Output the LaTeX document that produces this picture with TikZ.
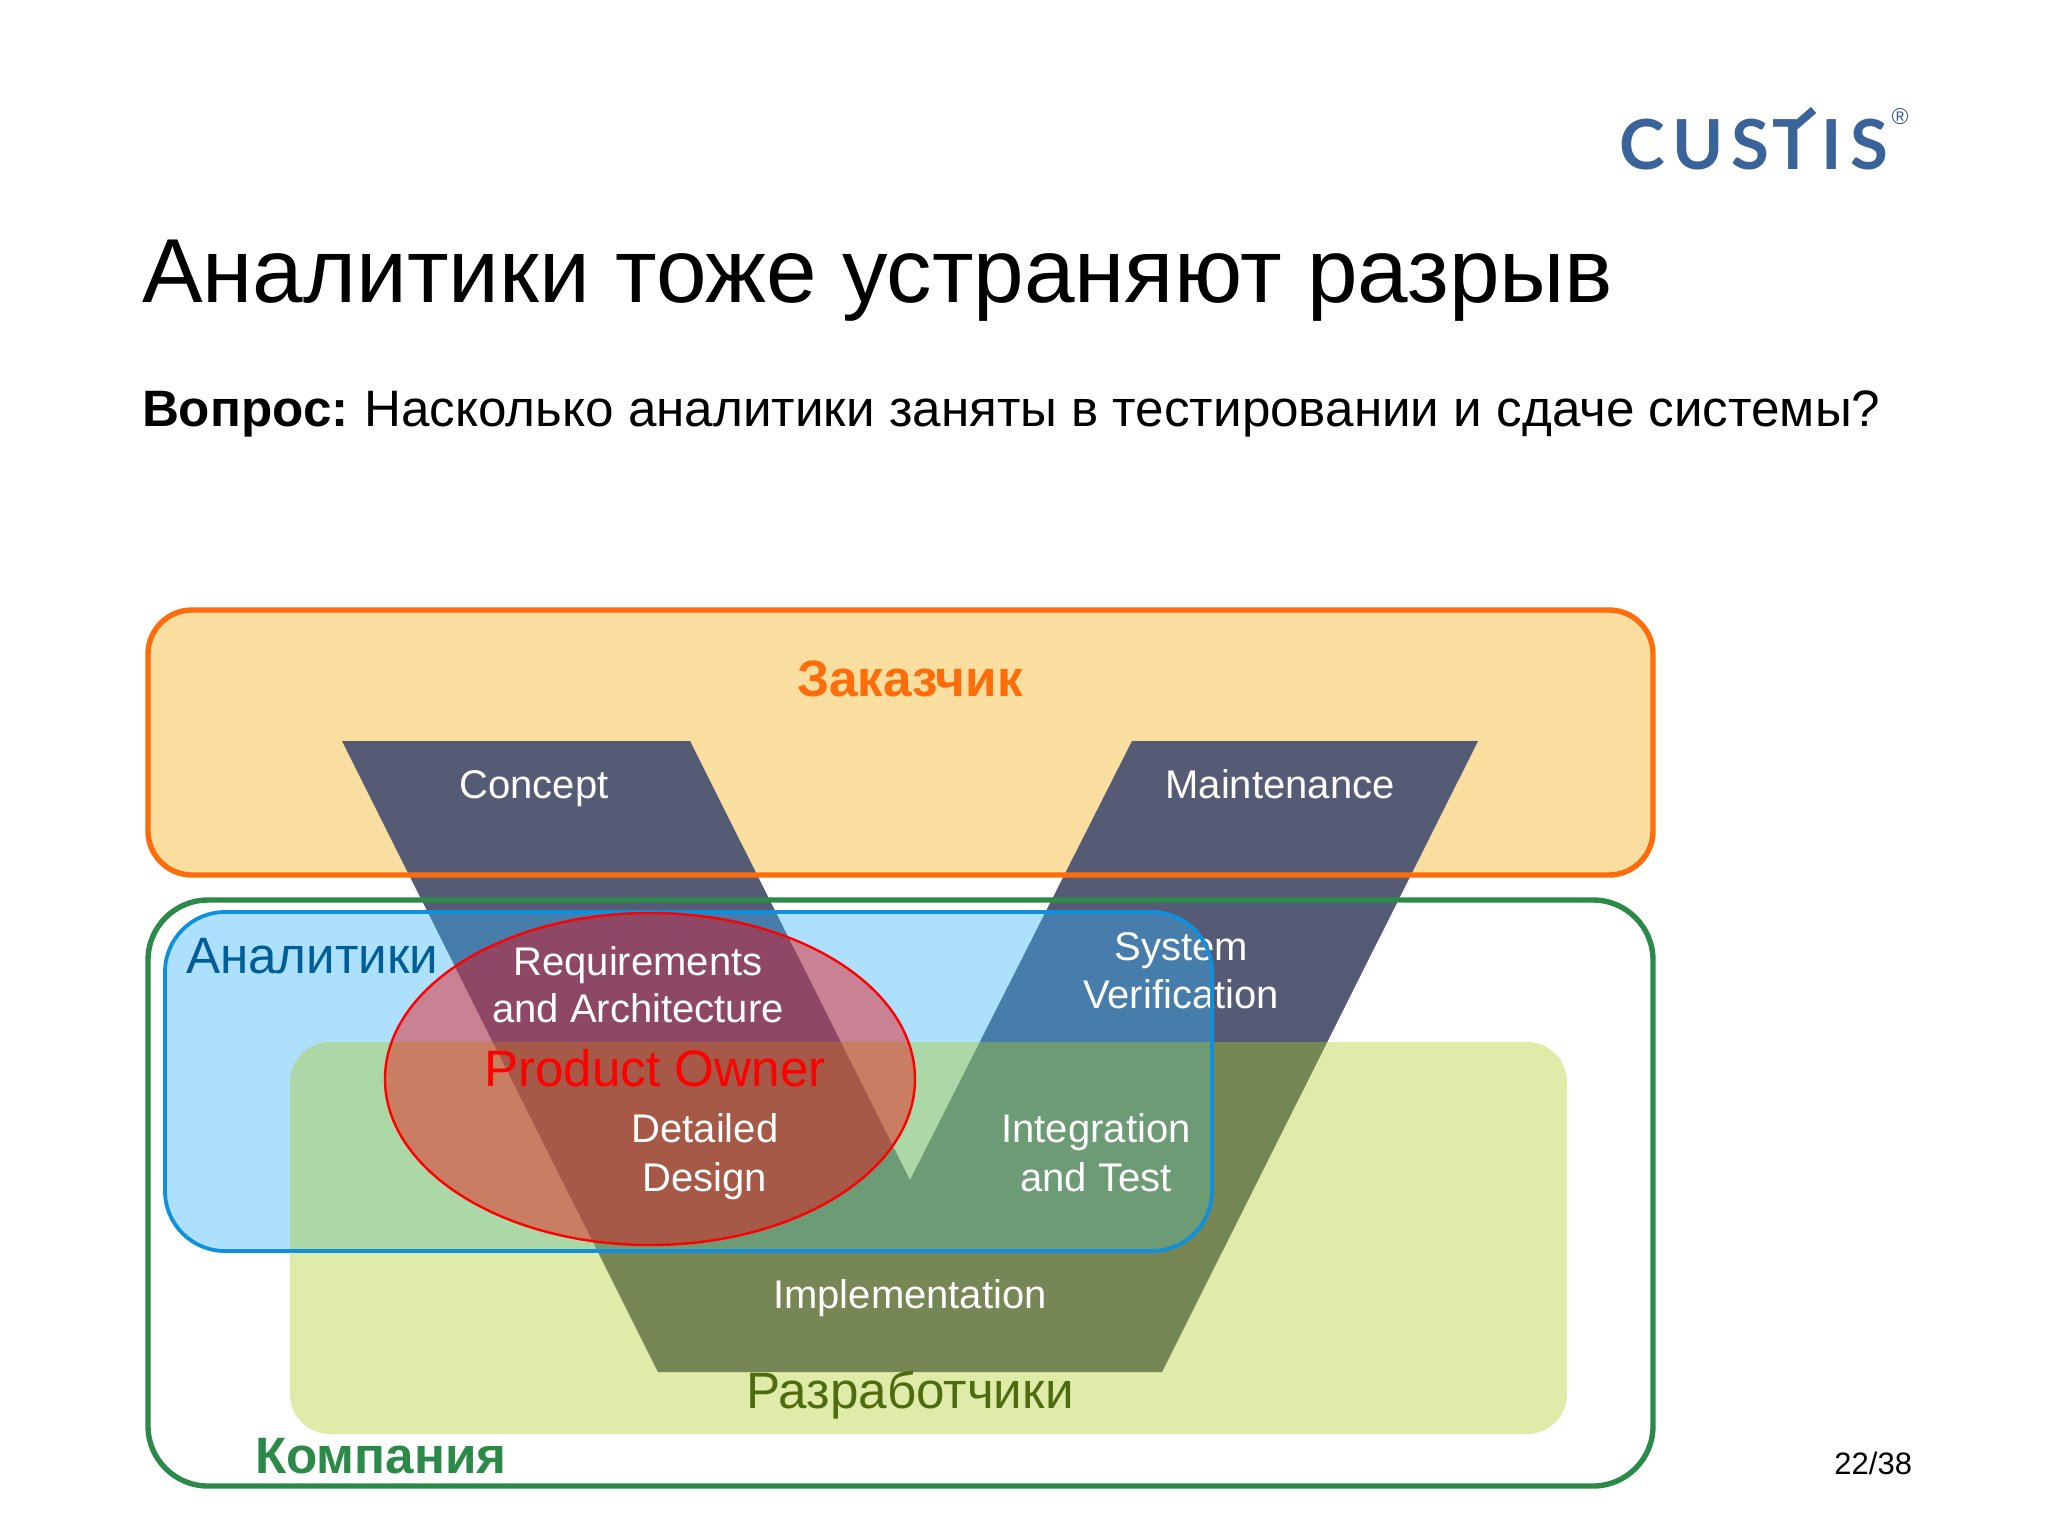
\documentclass[tikz,border=0pt]{standalone}
\usepackage{fontspec}
\usetikzlibrary{calc}
\setmainfont{Liberation Sans}
\newfontfamily\logofont[LetterSpace=11]{Lato}
\definecolor{custfill}{HTML}{F9DE9F}
\definecolor{custline}{HTML}{FF6C0A}
\definecolor{vee}{HTML}{555B75}
\definecolor{compline}{HTML}{2B8A47}
\definecolor{anafill}{RGB}{48,178,252}
\definecolor{analine}{HTML}{0F90DC}
\definecolor{devfill}{RGB}{173,204,36}
\definecolor{logoblue}{HTML}{3A6399}
\definecolor{anatext}{RGB}{0,94,150}
\definecolor{devtext}{RGB}{79,107,16}
\definecolor{redfill}{RGB}{243,0,5}
\newlength\cuslen
\newlength\tlen
\newcommand\logostyle{\logofont\fontsize{34.5}{34.5}\selectfont\bfseries}
\AtBeginDocument{%
  \settowidth{\cuslen}{\logostyle CUS\kern2pt}%
  \settowidth{\tlen}{\logostyle T}%
}
\tikzset{
  lbl/.style={inner sep=0pt,outer sep=0pt,anchor=base,align=center},
  vtext/.style={lbl,text=white,font=\fontsize{20}{24}\selectfont},
  groupname/.style={lbl,font=\fontsize{25.6}{30}\selectfont},
}
\begin{document}
\begin{tikzpicture}[x=0.5pt,y=-0.5pt]
\useasboundingbox (0,0) rectangle (2048,1536);
\fill[white] (0,0) rectangle (2048,1536);
% logo
\node[lbl,anchor=base west,text=logoblue] (logo) at (1619,169) {\logostyle CUS\kern2pt TIS};
\coordinate (stem) at ($(logo.base west)+(\cuslen+0.5\tlen-1pt,0pt)$);
\fill[white] ($(stem)+(2.2pt,19.5pt)$) rectangle ($(stem)+(11pt,26pt)$);
\draw[logoblue,line width=4pt] ($(stem)+(0pt,20pt)$) -- ($(stem)+(11pt,29.5pt)$);
\node[lbl,anchor=center,text=logoblue] (reg) at (1900,117) {\fontsize{11.5}{12}\selectfont ®};
% title
\node[lbl,anchor=base west] (title) at (142,302) {\fontsize{45.45}{50}\selectfont Аналитики тоже устраняют разрыв};
\node[lbl,anchor=base west] (question) at (142,426) {\fontsize{25.6}{28}\selectfont\textbf{Вопрос:} \kern-1.5pt Насколько аналитики заняты в тестировании и сдаче системы?};
% customer fill
\fill[custfill,rounded corners=22pt] (148,610) rectangle (1653,875);
% V
\fill[vee] (342,741) -- (690,741) -- (910,1180) -- (1132,741) -- (1478,741) -- (1162,1372) -- (658,1372) -- cycle;
\node[vtext] (concept) at (534,798) {Concept};
\node[vtext] (maint) at (1280,798) {Maintenance};
% translucent groups
\fill[anafill,fill opacity=.4,rounded corners=30pt] (165,912) rectangle (1212,1251);
\fill[devfill,fill opacity=.39,rounded corners=20pt] (290,1042) rectangle (1567,1434);
\fill[redfill,fill opacity=.42] (650,1079) ellipse [x radius=265,y radius=166];
% labels under the analysts' outline
\node[vtext] (sys1) at (1181,960) {System};
\node[vtext] (sys2) at (1181,1008) {Verification};
% outlines
\draw[custline,line width=2.7pt,rounded corners=22pt] (148,610) rectangle (1653,875);
\draw[compline,line width=2.7pt,rounded corners=30pt] (148,900) rectangle (1653,1486);
\draw[analine,line width=1.9pt,rounded corners=30pt] (165,912) rectangle (1212,1251);
\draw[red,line width=1.2pt] (650,1079) ellipse [x radius=265,y radius=166];
% labels
\node[lbl,text=custline,font=\fontsize{25.6}{28}\selectfont\bfseries] (cust) at (910,696) {Заказчик};
\node[groupname,anchor=base west,text=anatext] (ana) at (186,973) {Аналитики};
\node[vtext] (req1) at (638,975) {Requirements};
\node[vtext] (req2) at (638,1022) {and Architecture};
\node[groupname,text=red] (po) at (655,1086) {Product Owner};
\node[vtext] (det1) at (705,1142) {Detailed};
\node[vtext] (det2) at (705,1191) {Design};
\node[vtext] (int1) at (1096,1142) {Integration};
\node[vtext] (int2) at (1096,1191) {and Test};
\node[vtext] (impl) at (910,1308) {Implementation};
\node[groupname,text=devtext] (dev) at (910,1408) {Разработчики};
\node[lbl,anchor=base west,text=compline,font=\fontsize{25.6}{30}\selectfont\bfseries] (comp) at (255,1473) {Компания};
\node[lbl,anchor=base east,font=\fontsize{15.5}{18}\selectfont] (page) at (1912,1474) {22/38};
\end{tikzpicture}
\end{document}
